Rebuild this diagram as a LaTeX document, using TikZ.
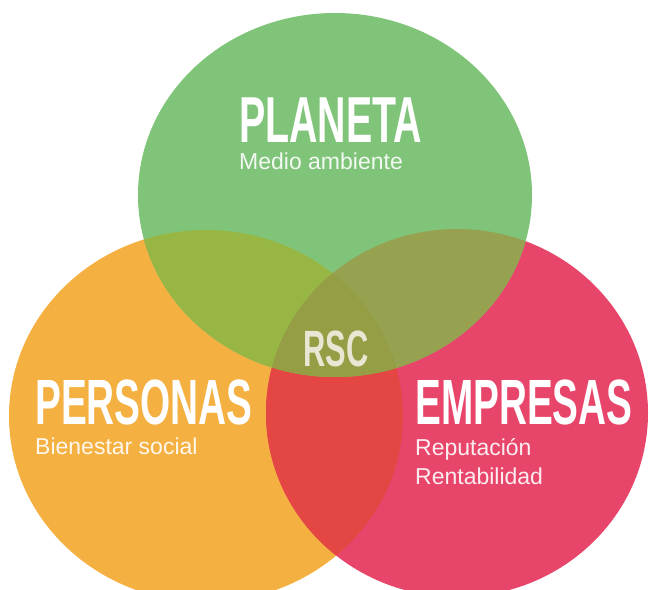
\documentclass[tikz,border=0pt]{standalone}
\usepackage{fontspec}
\setmainfont{Liberation Sans}
\newfontfamily\headfont[FakeStretch=0.605]{Liberation Sans}

\definecolor{planetacol}{HTML}{80C47A}
\definecolor{personascol}{HTML}{F5B042}
\definecolor{empresascol}{HTML}{E8456A}
\definecolor{plapercol}{HTML}{97B644}
\definecolor{plaempcol}{HTML}{96A250}
\definecolor{peremcol}{HTML}{E44644}
\definecolor{rsccol}{HTML}{959E44}
\definecolor{rsctext}{HTML}{E9E7D4}

\begin{document}
\begin{tikzpicture}[x=1pt,y=1pt,
    title/.style={font=\headfont\bfseries\fontsize{64}{64}\selectfont, text=white, inner sep=0pt, anchor=base west},
    sub/.style={font=\fontsize{23}{23}\selectfont, text=white, text opacity=0.9, inner sep=0pt, anchor=base west}]
        \useasboundingbox (0,0) rectangle (649,590);
        \clip (0,0) rectangle (649,590);

        \coordinate (P) at (335,395);
        \coordinate (S) at (206,174);
        \coordinate (E) at (457,177);

        % circles
        \fill[personascol] (S) ellipse [x radius=197pt, y radius=186pt];
        \fill[empresascol] (E) ellipse [x radius=191pt, y radius=184pt];
        \fill[planetacol] (P) ellipse [x radius=197pt, y radius=182pt];

        % overlaps
        \begin{scope}
            \clip (S) ellipse [x radius=197pt, y radius=186pt];
            \fill[peremcol] (E) ellipse [x radius=191pt, y radius=184pt];
        \end{scope}
        \begin{scope}
            \clip (S) ellipse [x radius=197pt, y radius=186pt];
            \fill[plapercol] (P) ellipse [x radius=197pt, y radius=182pt];
        \end{scope}
        \begin{scope}
            \clip (E) ellipse [x radius=191pt, y radius=184pt];
            \fill[plaempcol] (P) ellipse [x radius=197pt, y radius=182pt];
        \end{scope}
        \begin{scope}
            \clip (S) ellipse [x radius=197pt, y radius=186pt];
            \clip (E) ellipse [x radius=191pt, y radius=184pt];
            \fill[rsccol] (P) ellipse [x radius=197pt, y radius=182pt];
        \end{scope}

        % labels
        \node[title, font=\headfont\bfseries\fontsize{65}{65}\selectfont] (planeta) at (239,447) {PLANETA};
        \node[sub] (medio) at (239,420) {Medio ambiente};

        \node[title] (personas) at (35,165) {PERSONAS};
        \node[sub] (bienestar) at (35,135) {Bienestar social};

        \node[title] (empresas) at (415,165) {EMPRESAS};
        \node[sub] (reputacion) at (415,134) {Reputación};
        \node[sub] (rentabilidad) at (415,105) {Rentabilidad};

        \node[title, anchor=base, text=rsctext, font=\headfont\bfseries\fontsize{51}{51}\selectfont] (rsc) at (336,223) {RSC};
    \end{tikzpicture}
\end{document}
